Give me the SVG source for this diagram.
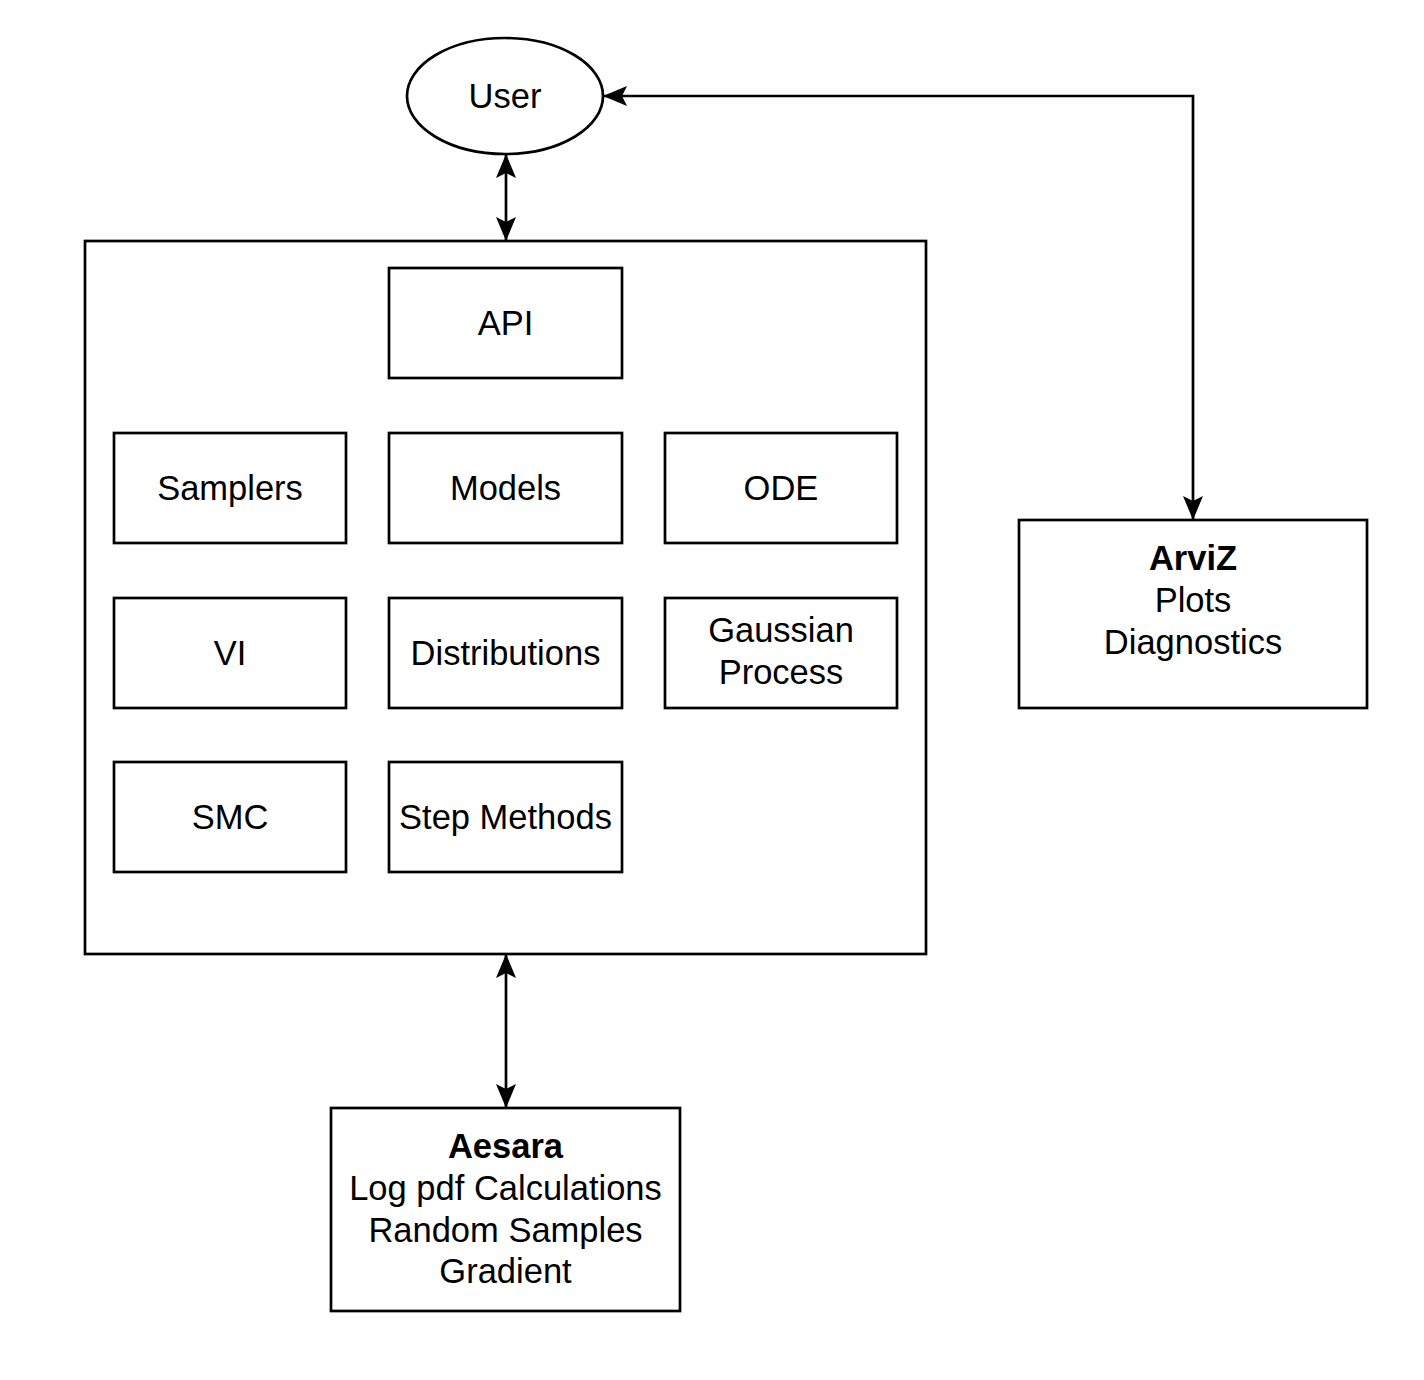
<svg xmlns="http://www.w3.org/2000/svg" width="1424" height="1380" viewBox="0 0 1424 1380">
<style>
.n{fill:#fff;stroke:#000;stroke-width:2.7}
.t{font-family:"Liberation Sans",Arial,Helvetica,sans-serif;font-size:34.5px;fill:#000;text-anchor:middle}
.b{font-weight:bold}
.c{fill:none;stroke:#000;stroke-width:2.7}
</style>
<defs>
<marker id="ah" viewBox="0 0 24 20" refX="23" refY="10" markerWidth="24" markerHeight="20" markerUnits="userSpaceOnUse" orient="auto-start-reverse">
<path d="M0,0 L24,10 L0,20 L5,10 Z" fill="#000"/>
</marker>
</defs>
<rect width="1424" height="1380" fill="#fff"/>
<g id="main"><rect class="n" x="85" y="241" width="841" height="713"/></g>
<g id="user"><ellipse class="n" cx="505" cy="96" rx="98" ry="58"/><text class="t" x="505" y="108">User</text></g>
<g id="api"><rect class="n" x="389" y="268" width="233" height="110"/><text class="t" x="505.5" y="335">API</text></g>
<g id="samplers"><rect class="n" x="114" y="433" width="232" height="110"/><text class="t" x="230" y="500">Samplers</text></g>
<g id="models"><rect class="n" x="389" y="433" width="233" height="110"/><text class="t" x="505.5" y="500">Models</text></g>
<g id="ode"><rect class="n" x="665" y="433" width="232" height="110"/><text class="t" x="781" y="500">ODE</text></g>
<g id="vi"><rect class="n" x="114" y="598" width="232" height="110"/><text class="t" x="230" y="665">VI</text></g>
<g id="distributions"><rect class="n" x="389" y="598" width="233" height="110"/><text class="t" x="505.5" y="665">Distributions</text></g>
<g id="gp"><rect class="n" x="665" y="598" width="232" height="110"/><text class="t" x="781" y="642">Gaussian</text><text class="t" x="781" y="684">Process</text></g>
<g id="smc"><rect class="n" x="114" y="762" width="232" height="110"/><text class="t" x="230" y="829">SMC</text></g>
<g id="step"><rect class="n" x="389" y="762" width="233" height="110"/><text class="t" x="505.5" y="829">Step Methods</text></g>
<g id="arviz"><rect class="n" x="1019" y="520" width="348" height="188"/><text class="t b" x="1193" y="570">ArviZ</text><text class="t" x="1193" y="612">Plots</text><text class="t" x="1193" y="654">Diagnostics</text></g>
<g id="aesara"><rect class="n" x="331" y="1108" width="349" height="203"/><text class="t b" x="505.5" y="1158">Aesara</text><text class="t" x="505.5" y="1200">Log pdf Calculations</text><text class="t" x="505.5" y="1242">Random Samples</text><text class="t" x="505.5" y="1283">Gradient</text></g>
<g id="connectors">
<path class="c" d="M506,155 L506,240" marker-start="url(#ah)" marker-end="url(#ah)"/>
<path class="c" d="M506,955 L506,1107" marker-start="url(#ah)" marker-end="url(#ah)"/>
<path class="c" d="M604,96 L1193,96 L1193,519" marker-start="url(#ah)" marker-end="url(#ah)"/>
</g>
</svg>
